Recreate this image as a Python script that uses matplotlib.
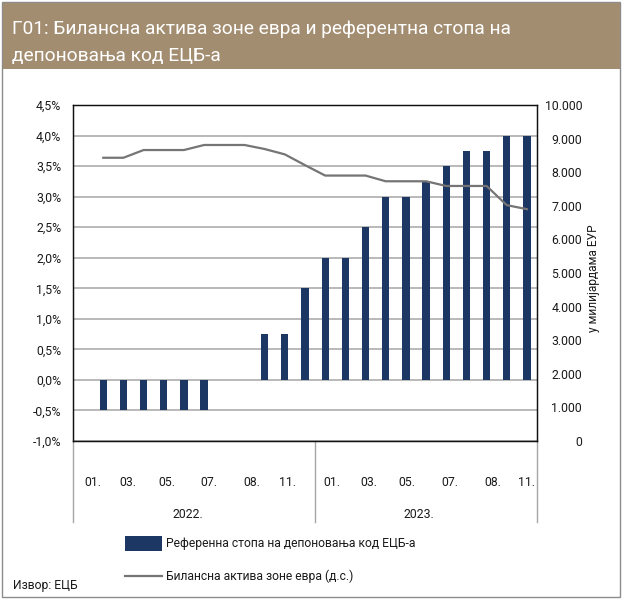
import numpy as np
import matplotlib
matplotlib.use('Agg')
import matplotlib.pyplot as plt
from matplotlib.patches import Rectangle
from matplotlib.lines import Line2D
from matplotlib.ticker import FuncFormatter, MultipleLocator

plt.rcParams['font.family'] = ['Roboto', 'DejaVu Sans']

# подаци (месечно, 2022-2023)
rate = [np.nan, -0.5, -0.5, -0.5, -0.5, -0.5, -0.5, 0.0, 0.0, 0.75, 0.75, 1.5,
        2.0, 2.0, 2.5, 3.0, 3.0, 3.25, 3.5, 3.75, 3.75, 4.0, 4.0]
assets = [np.nan, 8430, 8430, 8660, 8660, 8660, 8810, 8810, 8810, 8690, 8530, 8210,
          7900, 7900, 7900, 7730, 7730, 7730, 7590, 7590, 7590, 7020, 6900]
month_labels = ['01.', '03.', '05.', '07.', '08.', '11.',
                '01.', '03.', '05.', '07.', '08.', '11.']
month_pos = [0.49, 2.23, 4.16, 6.24, 8.37, 10.11,
             12.34, 14.18, 16.06, 18.19, 20.32, 22.0]
years = ['2022.', '2023.']
year_pos = [5.2, 16.65]
year_breaks = [-0.5, 11.5, 22.5]

title1 = 'Г01: Билансна актива зоне евра и референтна стопа на'
title2 = 'депоновања код ЕЦБ-а'
label_bar = 'Референна стопа на депоновања код ЕЦБ-а'
label_line = 'Билансна актива зоне евра (д.с.)'

NAVY = '#1c3764'
GREY_LINE = '#767474'
GRID = '#a6a6a6'
BROWN = '#a38d71'
TXT = '#1a1a1a'
FS = 8.8

W, H = 622, 599
fig = plt.figure(figsize=(W / 100, H / 100), dpi=100)

# оквир и заглавље
fig.patches.append(Rectangle((2 / W, 2 / H), 618 / W, 595 / H, transform=fig.transFigure,
                             facecolor='white', edgecolor='#8c8c8c', lw=1, zorder=0))
fig.patches.append(Rectangle((3 / W, 1 - 69 / H), 617 / W, 66 / H, transform=fig.transFigure,
                             facecolor=BROWN, edgecolor='none', zorder=1))
fig.text(12 / W, 1 - 34 / H, title1, color='white', fontsize=13.8, va='baseline')
fig.text(12 / W, 1 - 61 / H, title2, color='white', fontsize=13.8, va='baseline')

ax = fig.add_axes([73 / W, 1 - 441 / H, 464 / W, 336 / H])
ax.set_zorder(2)
x = np.arange(len(rate))
ax.bar(x, rate, width=0.36, color=NAVY, zorder=3)
ax.set_xlim(-0.5, len(rate) - 0.5)
ax.set_ylim(-1.0, 4.5)
ax.yaxis.set_major_locator(MultipleLocator(0.5))
ax.yaxis.set_major_formatter(FuncFormatter(lambda v, p: f'{v:.1f}%'.replace('.', ',')))
ax.grid(axis='y', color=GRID, lw=1.1)
ax.set_axisbelow(True)
ax.tick_params(axis='y', length=0, pad=8.5, labelsize=FS, labelcolor=TXT)
ax.set_xticks([])
for s in ax.spines.values():
    s.set_color('#111111')
    s.set_linewidth(0.9)

ax2 = ax.twinx()
ax2.plot(x, assets, color=GREY_LINE, lw=1.6, zorder=4)
ax2.set_ylim(0, 10000)
ax2.yaxis.set_major_locator(MultipleLocator(1000))
ax2.yaxis.set_major_formatter(FuncFormatter(lambda v, p: f'{v:,.0f}'.replace(',', '.')))
ax2.tick_params(axis='y', length=0, pad=32.5, labelsize=FS, labelcolor=TXT)
for t in ax2.get_yticklabels():
    t.set_horizontalalignment('right')
for s in ax2.spines.values():
    s.set_color('#111111')
    s.set_linewidth(0.9)

# категоријска оса са две нивоа
tr = ax.get_xaxis_transform()
for b in year_breaks:
    ax.add_line(Line2D([b, b], [0, -81 / 336], transform=tr, color=GRID, lw=1, clip_on=False))
for lab, p in zip(month_labels, month_pos):
    ax.text(p, -42 / 336, lab, transform=tr, ha='center', va='center', fontsize=FS, color=TXT)
for lab, p in zip(years, year_pos):
    ax.text(p, -74 / 336, lab, transform=tr, ha='center', va='center', fontsize=FS, color=TXT)

fig.text(593 / W, 1 - 278 / H, 'у милијардама ЕУР', rotation=90, ha='center', va='center',
         fontsize=8.6, color=TXT)

# легенда
fig.patches.append(Rectangle((125 / W, 1 - 551 / H), 37 / W, 15 / H, transform=fig.transFigure,
                             facecolor=NAVY, edgecolor='none', zorder=3))
fig.text(166 / W, 1 - 544 / H, label_bar, ha='left', va='center', fontsize=8.7, color=TXT)
fig.lines.append(Line2D([125 / W, 162 / W], [1 - 576 / H, 1 - 576 / H], transform=fig.transFigure,
                        color=GREY_LINE, lw=1.6))
fig.text(166 / W, 1 - 576 / H, label_line, ha='left', va='center', fontsize=8.7, color=TXT)
fig.text(13 / W, 1 - 585 / H, 'Извор: ЕЦБ', ha='left', va='center', fontsize=8.7, color=TXT)

fig.savefig('out.png', dpi=100)
